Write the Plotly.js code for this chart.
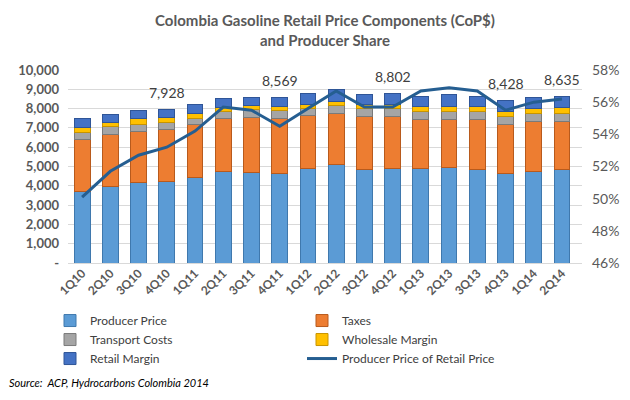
<!DOCTYPE html>
<html>
<head>
<meta charset="utf-8">
<script src="https://cdn.plot.ly/plotly-3.0.1.min.js"></script>
<style>html,body{margin:0;padding:0;background:#fff;}#chart{width:630px;height:400px;}</style>
</head>
<body>
<div id="chart"></div>
<script>
const quarters = ['1Q10','2Q10','3Q10','4Q10','1Q11','2Q11','3Q11','4Q11','1Q12','2Q12','3Q12','4Q12','1Q13','2Q13','3Q13','4Q13','1Q14','2Q14'];
const producerPrice   = [3700,3960,4190,4220,4430,4740,4705,4655,4910,5090,4830,4880,4880,4950,4870,4655,4740,4830];
const taxes           = [2680,2720,2630,2720,2730,2730,2840,2850,2720,2680,2750,2715,2545,2480,2560,2505,2595,2505];
const transportCosts  = [380,380,380,350,350,380,400,380,380,380,430,410,430,440,430,435,430,430];
const wholesaleMargin = [280,240,280,260,260,225,210,225,225,225,210,200,260,260,255,260,260,295];
const retailMargin    = [430,415,410,378,430,435,425,459,570,605,535,597,535,590,535,573,555,575];
const producerShare   = [50.1,51.7,52.7,53.2,54.2,55.7,55.5,54.5,55.6,56.7,55.7,55.7,56.7,56.9,56.7,55.5,56.0,56.2];
const labelQuarters   = ['4Q10','4Q11','4Q12','4Q13','2Q14'];
const labelTotals     = [7928,8569,8802,8428,8635];
const leftTickVals    = [0,1000,2000,3000,4000,5000,6000,7000,8000,9000,10000];
const leftTickText    = ['-','1,000','2,000','3,000','4,000','5,000','6,000','7,000','8,000','9,000','10,000'];

const FONT = 'Lato, "Open Sans", sans-serif';
const GREY = '#595959';

function bar(name, y, color, edge) {
  return {type:'bar', name:name, x:quarters, y:y,
    marker:{color:color, line:{color:edge, width:1}},
    hoverinfo:'skip'};
}
const traces = [
  bar('Producer Price', producerPrice, '#5B9BD5', '#3F78AD'),
  bar('Taxes', taxes, '#ED7D31', '#B85A1C'),
  bar('Transport Costs', transportCosts, '#A5A5A5', '#7A7A7A'),
  bar('Wholesale Margin', wholesaleMargin, '#FFC000', '#C89400'),
  bar('Retail Margin', retailMargin, '#4472C4', '#2F5597'),
  {type:'scatter', mode:'lines', name:'Producer Price of Retail Price', x:quarters, y:producerShare,
   yaxis:'y2', line:{color:'#255E91', width:3}, hoverinfo:'skip'}
];

const annotations = labelQuarters.map((q,i)=>({
  x:q, y:labelTotals[i], xref:'x', yref:'y', yshift:17, showarrow:false,
  text:labelTotals[i].toLocaleString('en-US'),
  font:{family:FONT, size:14, color:'#404040'}
}));
annotations.push({
  xref:'paper', yref:'paper', x:-0.118, y:-0.617, xanchor:'left', yanchor:'middle', showarrow:false,
  text:'<i>Source:  ACP, Hydrocarbons Colombia 2014</i>',
  font:{family:FONT, size:11, color:'#000'}
});

const layout = {
  width:630, height:400,
  margin:{l:68, r:48, t:70, b:137},
  paper_bgcolor:'#fff', plot_bgcolor:'#fff',
  barmode:'stack', bargap:0.44,
  showlegend:true,
  title:{text:'<b>Colombia Gasoline Retail Price Components (CoP$)<br>and Producer Share</b>',
    x:0.5, xref:'paper', yref:'container', y:0.935, yanchor:'top',
    font:{family:FONT, size:15, color:GREY}},
  xaxis:{type:'category', tickangle:-45, showgrid:false, showline:false, ticks:'', automargin:false,
    tickfont:{family:FONT, size:12, color:GREY, weight:'bold'}},
  yaxis:{range:[0,10000], tickvals:leftTickVals, ticktext:leftTickText, automargin:false,
    showgrid:true, gridcolor:'#D9D9D9', gridwidth:1, zeroline:true, zerolinecolor:'#D9D9D9',
    ticks:'', ticklabelstandoff:8, tickfont:{family:FONT, size:13, color:GREY, weight:'bold'}},
  yaxis2:{overlaying:'y', side:'right', range:[46,58], dtick:2, ticksuffix:'%', automargin:false,
    showgrid:false, zeroline:false, ticks:'', ticklabelstandoff:9,
    tickfont:{family:FONT, size:14, color:GREY}},
  legend:{orientation:'h', x:-0.035, xanchor:'left', yref:'paper', y:-0.223, yanchor:'top',
    traceorder:'normal', entrywidth:207, entrywidthmode:'pixels',
    font:{family:FONT, size:12, color:'#404040'}, tracegroupgap:0, itemwidth:30},
  annotations:annotations
};

Plotly.newPlot('chart', traces, layout, {displayModeBar:false, staticPlot:true});
</script>
</body>
</html>
